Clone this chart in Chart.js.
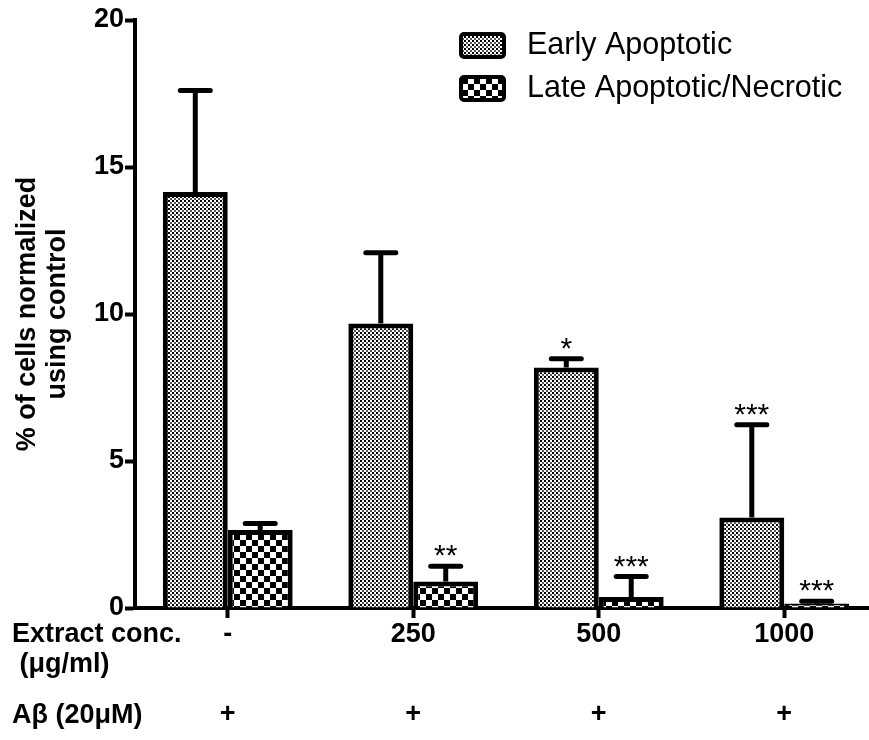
<!DOCTYPE html>
<html>
<head>
<meta charset="utf-8">
<script src="https://cdn.jsdelivr.net/npm/chart.js@4.4.0/dist/chart.umd.min.js"></script>
<style>
  html, body { margin: 0; padding: 0; background: #fff; overflow: hidden; }
  #wrap { width: 869px; height: 740px; overflow: hidden; }
</style>
</head>
<body>
<div id="wrap"><canvas id="mygraph" width="877" height="740"></canvas></div>
<script>
// data
const concLabels = ["-", "250", "500", "1000"];
const abetaLabels = ["+", "+", "+", "+"];
const rowLabels = ["Extract conc.", " (\u03bcg/ml)", "A\u03b2 (20\u03bcM)"];
const seriesNames = ["Early Apoptotic", "Late Apoptotic/Necrotic"];
const earlyValues = [14.15, 9.68, 8.18, 3.08];
const earlyErrors = [3.45, 2.4, 0.3, 3.15];
const lateValues = [2.65, 0.9, 0.37, 0.15];
const lateErrors = [0.22, 0.52, 0.7, 0.08];
const earlyStars = ["", "", "*", "***"];
const lateStars = ["", "**", "***", "***"];
const yTicks = [0, 5, 10, 15, 20];

const FONT = "'Liberation Sans', Arial, sans-serif";
Chart.defaults.font.family = FONT;
Chart.defaults.color = "#000";

// fill patterns
function makePattern(size, draw) {
    let c = document.createElement("canvas");
    c.width = size;
    c.height = size;
    let g = c.getContext("2d");
    g.fillStyle = "#fff";
    g.fillRect(0, 0, size, size);
    draw(g);
    return document.getElementById("mygraph").getContext("2d").createPattern(c, "repeat");
}
const finePattern = makePattern(4, function(g) {
    g.fillStyle = "#000";
    g.fillRect(0, 0, 2, 2);
    g.fillStyle = "#555";
    g.fillRect(2, 2, 2, 2);
});
const coarsePattern = makePattern(12, function(g) {
    g.fillStyle = "#000";
    g.fillRect(0, 0, 6, 6);
    g.fillRect(6, 6, 6, 6);
});

const errors = [earlyErrors, lateErrors];
const stars = [earlyStars, lateStars];

// error bars (upper only) and significance stars
const errorBars = {
    id: "errorBars",
    afterDatasetsDraw(chart) {
        const c = chart.ctx;
        const y = chart.scales.y;
        c.save();
        chart.data.datasets.forEach(function(ds, i) {
            chart.getDatasetMeta(i).data.forEach(function(bar, j) {
                let top = y.getPixelForValue(ds.data[j] + errors[i][j]);
                c.strokeStyle = "#000";
                c.lineWidth = 5;
                c.lineCap = "butt";
                c.beginPath();
                c.moveTo(bar.x, bar.y);
                c.lineTo(bar.x, top);
                c.stroke();
                c.lineCap = "round";
                c.beginPath();
                c.moveTo(bar.x - 15, top);
                c.lineTo(bar.x + 15, top);
                c.stroke();
                if (stars[i][j]) {
                    c.fillStyle = "#000";
                    c.font = "30px " + FONT;
                    c.textAlign = "center";
                    c.textBaseline = "alphabetic";
                    c.fillText(stars[i][j], bar.x, top - 1);
                }
            });
        });
        c.restore();
    }
};

// legend box top right + row captions under the axis
const extras = {
    id: "extras",
    afterDraw(chart) {
        const c = chart.ctx;
        c.save();
        chart.data.datasets.forEach(function(ds, i) {
            let cy = 45 + i * 43;
            c.beginPath();
            c.roundRect(461, cy - 11, 43, 23, 3);
            c.fillStyle = ds.backgroundColor;
            c.fill();
            c.lineWidth = 4;
            c.strokeStyle = "#000";
            c.stroke();
            c.fillStyle = "#000";
            c.font = "30.5px " + FONT;
            c.textAlign = "left";
            c.textBaseline = "middle";
            c.fillText(ds.label, 527, cy + 1);
        });
        c.font = "bold 27px " + FONT;
        c.textBaseline = "middle";
        const rowY = [635, 665, 716];
        rowLabels.forEach(function(t, i) {
            c.fillText(t, 12, rowY[i]);
        });
        c.restore();
    }
};

const ctx = document.getElementById("mygraph").getContext("2d");
const chart = new Chart(ctx, {
    type: "bar",
    data: {
        labels: concLabels.map((l, i) => [l, "", abetaLabels[i]]),
        datasets: [{
            label: seriesNames[0],
            data: earlyValues,
            backgroundColor: finePattern,
            borderColor: "#000",
            borderWidth: 5,
        }, {
            label: seriesNames[1],
            data: lateValues,
            backgroundColor: coarsePattern,
            borderColor: "#000",
            borderWidth: 5,
        }],
    },
    options: {
        responsive: false,
        animation: false,
        layout: { padding: { top: 20, right: 0, left: 0, bottom: 0 } },
        datasets: { bar: { categoryPercentage: 0.7, barPercentage: 1.0 } },
        plugins: { legend: { display: false }, tooltip: { enabled: false } },
        scales: {
            x: {
                afterFit(scale) { scale.height = 132; },
                grid: { offset: false, drawOnChartArea: false, tickLength: 10, tickWidth: 4, tickColor: "#000" },
                border: { color: "#000", width: 4 },
                ticks: {
                    autoSkip: false,
                    maxRotation: 0,
                    padding: -3,
                    color: "#000",
                    font: { size: 27, weight: "bold", lineHeight: 1.48 },
                },
            },
            y: {
                min: 0,
                max: 20,
                afterFit(scale) { scale.width = 135; },
                afterBuildTicks(scale) { scale.ticks = yTicks.map(v => ({ value: v })); },
                grid: { drawOnChartArea: false, tickLength: 10, tickWidth: 4, tickColor: "#000" },
                border: { color: "#000", width: 4 },
                ticks: { padding: 1, color: "#000", font: { size: 27, weight: "bold" } },
                title: {
                    display: true,
                    text: ["% of cells normalized", "using control"],
                    color: "#000",
                    padding: { top: 13, bottom: 0 },
                    font: { size: 27, weight: "bold", lineHeight: 1.11 },
                },
            },
        },
    },
    plugins: [errorBars, extras],
});
</script>
</body>
</html>
